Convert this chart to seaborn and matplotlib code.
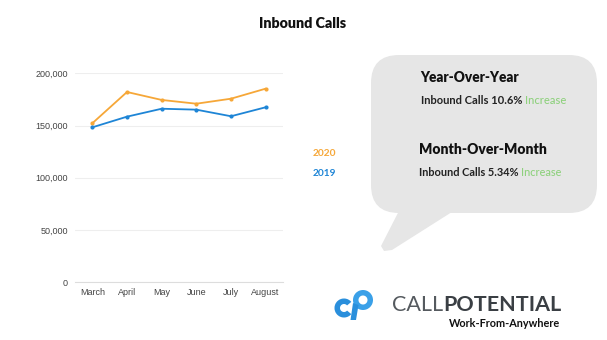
import numpy as np
import pandas as pd
import seaborn as sns
import matplotlib
matplotlib.use("Agg")
import matplotlib.pyplot as plt
from matplotlib.patches import FancyBboxPatch, Polygon, Wedge

months = ["March", "April", "May", "June", "July", "August"]
calls_2020 = [152200, 182100, 174500, 170900, 175700, 185300]
calls_2019 = [148300, 158500, 166100, 165200, 158900, 167500]
years = ["2020", "2019"]
yticks = [0, 50000, 100000, 150000, 200000]

ORANGE = "#f6a738"
BLUE = "#1e85d6"
GREEN = "#8fd17e"
COND = ["Lato", "DejaVu Sans"]
SANS = ["Liberation Sans", "DejaVu Sans"]
GROW = 1.1

df = pd.DataFrame({
    "month": months * 2,
    "calls": calls_2020 + calls_2019,
    "year": [years[0]] * len(months) + [years[1]] * len(months),
})

sns.set_style("white")
W, H = 607, 340
fig = plt.figure(figsize=(W / 100, H / 100), dpi=100)
renderer = fig.canvas.get_renderer()

ov = fig.add_axes([0, 0, 1, 1], zorder=0)
ov.set_xlim(0, W)
ov.set_ylim(H, 0)
ov.axis("off")

ax = fig.add_axes([75 / W, 1 - 282.3 / H, (283 - 75) / W, (282.3 - 73.3) / H], zorder=1)
ax.patch.set_alpha(0)
sns.lineplot(data=df, x="month", y="calls", hue="year", palette={"2020": ORANGE, "2019": BLUE},
             marker="o", markersize=3, markeredgewidth=0, linewidth=1.3, ax=ax, legend=False, sort=False)
ax.set_xlim(-0.5, 5.5)
ax.set_ylim(0, 200000)
ax.set_yticks(yticks)
ax.set_yticklabels([f"{v:,}" for v in yticks])
ax.set_xlabel("")
ax.set_ylabel("")
ax.grid(axis="y", color="#eeeeee", linewidth=0.8)
ax.grid(axis="x", visible=False)
for s in ["top", "right", "left"]:
    ax.spines[s].set_visible(False)
ax.spines["bottom"].set_color("#dddddd")
ax.spines["bottom"].set_linewidth(0.8)
ax.tick_params(axis="both", length=0, labelsize=6.5, colors="#444444")
ax.tick_params(axis="x", pad=4)
ax.tick_params(axis="y", pad=5)
for lab in ax.get_xticklabels() + ax.get_yticklabels():
    lab.set_family(SANS)


def txt(x, y, s, ha="left", **kw):
    return ov.text(x, y, s, ha=ha, va="center", fontsize=10, **kw)


def fit(t, target_w):
    w = t.get_window_extent(renderer).width
    t.set_fontsize(10 * target_w / w)


# Title
t = txt(302.5, 23, "Inbound Calls", ha="center", fontweight="heavy", family=COND, color="#111111")
fit(t, 80 * GROW)

# legend-like labels
t = txt(312.7, 153, years[0], fontweight="bold", family=COND, color=ORANGE)
fit(t, 21.5 * GROW)
t = txt(312.7, 174, years[1], fontweight="bold", family=COND, color=BLUE)
fit(t, 21.5 * GROW)

# Speech bubble
BUB = "#e6e6e6"
ov.add_patch(FancyBboxPatch((371 + 28, 55 + 28), 597 - 371 - 56, 213 - 55 - 56,
                            boxstyle="round,pad=28", fc=BUB, ec="none"))
ov.add_patch(Polygon([(402, 205), (463, 205), (392, 250), (384, 251), (381, 246)], closed=True, fc=BUB, ec="none"))

t = txt(420.7, 78, "Year-Over-Year", fontweight="heavy", family=COND, color="#111111")
fit(t, 90 * GROW)


def two_part(x, y, a, b, width):
    p1 = txt(x, y, a, fontweight="bold", family=COND, color="#222222")
    w1 = p1.get_window_extent(renderer).width
    p2 = ov.annotate(b, xycoords=p1, xy=(1, 0.5), va="center", ha="left", fontsize=10,
                     family=COND, fontweight="medium", color=GREEN)
    w2 = p2.get_window_extent(renderer).width
    s = 10 * width / (w1 + w2)
    p1.set_fontsize(s)
    p2.set_fontsize(s)


two_part(420.7, 101, "Inbound Calls 10.6% ", "Increase", 132 * GROW)
t = txt(419.3, 150, "Month-Over-Month", fontweight="heavy", family=COND, color="#111111")
fit(t, 116 * GROW)
two_part(419.3, 173, "Inbound Calls 5.34% ", "Increase", 131 * GROW)

# Logo icon
LB = "#2a8fdc"
ov.add_patch(Wedge((344, 308), 9.5, 40, 320, width=5.5, fc=LB, ec="none"))
ov.add_patch(Wedge((363, 300), 10, 0, 360, width=5.5, fc="#3aa0e8", ec="none"))
ov.add_patch(Polygon([(353, 303), (358.5, 305), (356, 320), (350.5, 320)], closed=True, fc=LB, ec="none"))

# Logo text
c1 = txt(391.7, 305, "CALL", family=["Lato", "DejaVu Sans"], color="#555a5f")
w1 = c1.get_window_extent(renderer).width
c2 = ov.annotate("POTENTIAL", xycoords=c1, xy=(1, 0.5), va="center", ha="left", fontsize=10,
                 fontweight="bold", family=["Lato", "DejaVu Sans"], color="#3a3f44")
w2 = c2.get_window_extent(renderer).width
s = 10 * 168 / (w1 + w2)
c1.set_fontsize(s)
c2.set_fontsize(s)

t = txt(560, 323.5, "Work-From-Anywhere", ha="right", fontweight="bold", family=COND, color="#111111")
fit(t, 112)

fig.savefig("out.png", dpi=100)
